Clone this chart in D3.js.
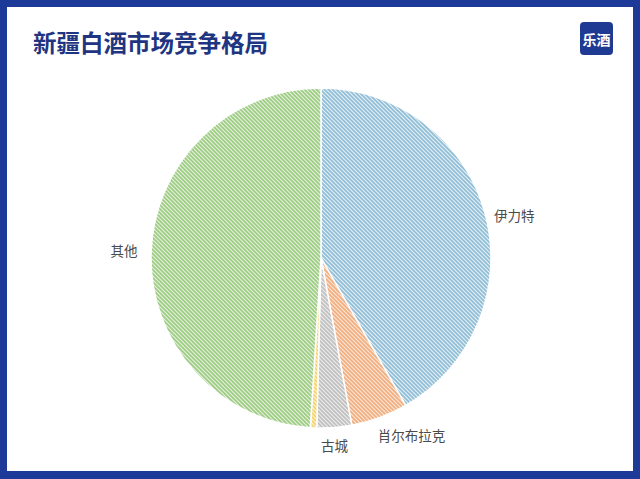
<!DOCTYPE html>
<html><head><meta charset="utf-8">
<script src="https://cdn.jsdelivr.net/npm/d3@7/dist/d3.min.js"></script>
<style>body{margin:0;background:#fff}svg{display:block}</style>
</head><body>
<svg id="c" width="640" height="479"></svg>
<script>
const categories = ["伊力特","肖尔布拉克","古城","其他品牌","其他"];
const values = [41.7, 5.4, 3.3, 0.6, 49.0];
const labels = ["伊力特","肖尔布拉克","古城","","其他"];
const strokeColors = ["#8fbdd6","#f1ad7e","#bfbfbf","#f5d36a","#9ccc82"];
const bgColors = ["#e3eff6","#fbe6d6","#ededed","#fdf3d2","#e4f1dc"];
const title = "新疆白酒市场竞争格局";

const svg = d3.select("#c");
const W = 640, H = 479;
svg.append("rect").attr("width",W).attr("height",H).attr("fill","#1d3a98");
svg.append("rect").attr("x",7).attr("y",7).attr("width",626).attr("height",464).attr("fill","#ffffff");

const defs = svg.append("defs");
categories.forEach((c,i)=>{
  const p = defs.append("pattern").attr("id","p"+i).attr("patternUnits","userSpaceOnUse")
    .attr("width",4).attr("height",4);
  p.append("rect").attr("width",4).attr("height",4).attr("fill",bgColors[i]);
  p.append("path").attr("d","M-1,-1L5,5M-1,3L1,5M3,-1L5,1")
    .attr("stroke",strokeColors[i]).attr("stroke-width",1.6);
});

svg.append("text").attr("x",33).attr("y",52).text(title)
  .attr("font-family","'Noto Sans CJK SC'").attr("font-weight","bold")
  .attr("font-size",23.5).attr("fill","#1f3582");

svg.append("rect").attr("x",580).attr("y",22).attr("width",33).attr("height",33).attr("rx",4)
  .attr("fill","#1f3a92");
svg.append("text").attr("x",596.5).attr("y",39).attr("text-anchor","middle")
  .attr("dominant-baseline","central").text("乐酒")
  .attr("font-family","'Noto Sans CJK SC'").attr("font-weight","bold")
  .attr("font-size",14).attr("fill","#ffffff");

const cx = 321, cy = 258, R = 170;
const pie = d3.pie().sort(null).value(d=>d.v);
const data = pie(categories.map((c,i)=>({c, v: values[i], i})));
const arc = d3.arc().innerRadius(0).outerRadius(R);
const g = svg.append("g").attr("transform",`translate(${cx},${cy})`);
g.selectAll("path").data(data).join("path")
  .attr("d",arc).attr("fill",d=>`url(#p${d.data.i})`)
  .attr("stroke","#ffffff").attr("stroke-width",1.5);

const labelArc = d3.arc().innerRadius(196).outerRadius(196);
const offsets = [[4,8],[23,-7],[-2,-8],[0,0],[-1,-2]];
g.selectAll("text.l").data(data.filter(d=>labels[d.data.i]!=="")).join("text")
  .attr("class","l")
  .attr("x",d=>labelArc.centroid(d)[0]+offsets[d.data.i][0])
  .attr("y",d=>labelArc.centroid(d)[1]+offsets[d.data.i][1])
  .attr("text-anchor","middle").attr("dominant-baseline","central")
  .text(d=>labels[d.data.i])
  .attr("font-family","'Noto Sans CJK SC'").attr("font-size",13.5).attr("fill","#4a4a4a");
</script>
</body></html>
